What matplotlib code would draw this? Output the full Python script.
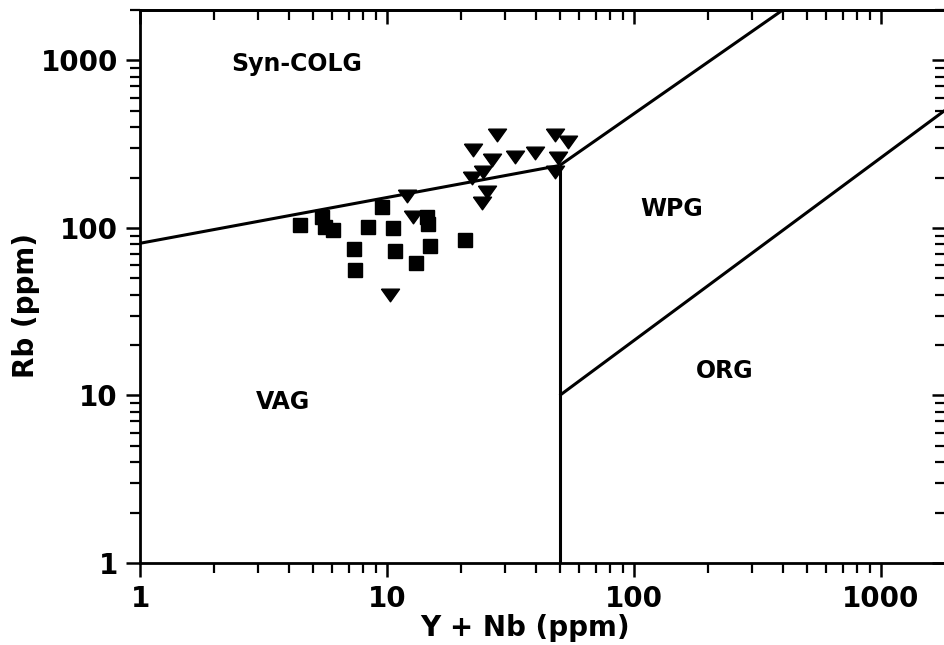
import matplotlib
matplotlib.use("Agg")
import matplotlib.pyplot as plt
from matplotlib.ticker import LogLocator, NullFormatter
import numpy as np

# ---- data ----
sq_x = [4.44, 5.45, 5.61, 6.04, 9.55, 8.38, 10.6, 7.35, 10.8, 7.42, 14.9, 13.1, 20.7, 14.5, 14.7]
sq_y = [103.6, 117, 102, 97.7, 133, 101, 99.4, 74.5, 72.5, 55.9, 77.7, 61.5, 84.4, 116, 106]

tri_x = [27.9, 22.3, 26.6, 24.5, 22.1, 33.0, 39.7, 47.9, 54.1, 49.2, 47.9, 25.4, 24.2, 12.0, 12.7, 10.3]
tri_y = [361, 290, 253, 215, 200, 264, 282, 357, 324, 260, 215, 163, 140, 156, 116, 39.6]

# discrimination boundaries (Pearce et al. 1984 style)
vag_colg_x = [1, 50]
vag_colg_y = [81, 236]
colg_wpg_x = [50, 400]
colg_wpg_y = [236, 2000]
vag_wpg_x = [50, 50]
vag_wpg_y = [1, 236]
wpg_org_x = [50, 2000]
wpg_org_y = [10, 560]

region_names = ["Syn-COLG", "WPG", "ORG", "VAG"]
region_x = [4.32, 142.5, 233, 3.79]
region_y = [946, 129, 14.0, 9.12]

x_ticks = [1, 10, 100, 1000]
x_ticklabels = ["1", "10", "100", "1000"]
y_ticks = [1, 10, 100, 1000]
y_ticklabels = ["1", "10", "100", "1000"]

xlabel = "Y + Nb (ppm)"
ylabel = "Rb (ppm)"

# ---- figure ----
plt.rcParams['font.family'] = ['DejaVu Sans']
fig = plt.figure(figsize=(9.44, 6.45), dpi=100)
W, H = 944, 645
ax = fig.add_axes([140 / W, (H - 563) / H, 807 / W, 553 / H])
ax.set_xscale('log')
ax.set_yscale('log')
ax.set_xlim(1, 1850)
ax.set_ylim(1, 2000)

lw = 2.2
for xs, ys in [(vag_colg_x, vag_colg_y), (colg_wpg_x, colg_wpg_y),
               (vag_wpg_x, vag_wpg_y), (wpg_org_x, wpg_org_y)]:
    ax.plot(xs, ys, color='black', lw=lw, solid_capstyle='butt', zorder=2)

tri_marker = [(-1, 0.7), (1, 0.7), (0, -0.7), (-1, 0.7)]
ax.plot(sq_x, sq_y, linestyle='none', marker='s', ms=9.5, color='black', zorder=3)
ax.plot(tri_x, tri_y, linestyle='none', marker=tri_marker, ms=13, color='black', zorder=3)

for name, tx, ty in zip(region_names, region_x, region_y):
    ax.text(tx, ty, name, ha='center', va='center', fontsize=17, fontweight='bold')

for s in ax.spines.values():
    s.set_linewidth(2)

ax.set_xticks(x_ticks, labels=x_ticklabels)
ax.set_yticks(y_ticks, labels=y_ticklabels)
ax.tick_params(axis='both', which='major', direction='out', length=10, width=1.8,
               labelsize=20, pad=6, top=False, right=False)
ax.tick_params(axis='both', which='minor', direction='out', length=7, width=1.6,
               top=False, right=False)
for lab in ax.get_xticklabels() + ax.get_yticklabels():
    lab.set_fontweight('bold')

# mirrored axes: ticks pointing inward on top and right
secx = ax.secondary_xaxis('top')
secx.set_xticks(x_ticks)
secx.xaxis.set_minor_locator(LogLocator(base=10, subs=range(2, 10)))
secx.xaxis.set_minor_formatter(NullFormatter())
secx.tick_params(axis='x', which='major', direction='in', length=10, width=1.8, labeltop=False)
secx.tick_params(axis='x', which='minor', direction='in', length=7, width=1.6, labeltop=False)
secx.spines['top'].set_linewidth(2)
secy = ax.secondary_yaxis('right')
secy.set_yticks(y_ticks)
secy.yaxis.set_minor_locator(LogLocator(base=10, subs=range(2, 10)))
secy.yaxis.set_minor_formatter(NullFormatter())
secy.tick_params(axis='y', which='major', direction='in', length=11, width=1.8, labelright=False)
secy.tick_params(axis='y', which='minor', direction='in', length=9, width=1.6, labelright=False)
secy.spines['right'].set_linewidth(2)

ax.set_xlabel(xlabel, fontsize=20, fontweight='bold')
ax.xaxis.set_label_coords((525 - 140) / 807, (563 - 614) / 553)
ax.set_ylabel(ylabel, fontsize=20, fontweight='bold')
ax.yaxis.set_label_coords((12 - 140) / 807, (563 - 305) / 553)
ax.yaxis.label.set_verticalalignment('top')

fig.savefig("out.png", dpi=100)
